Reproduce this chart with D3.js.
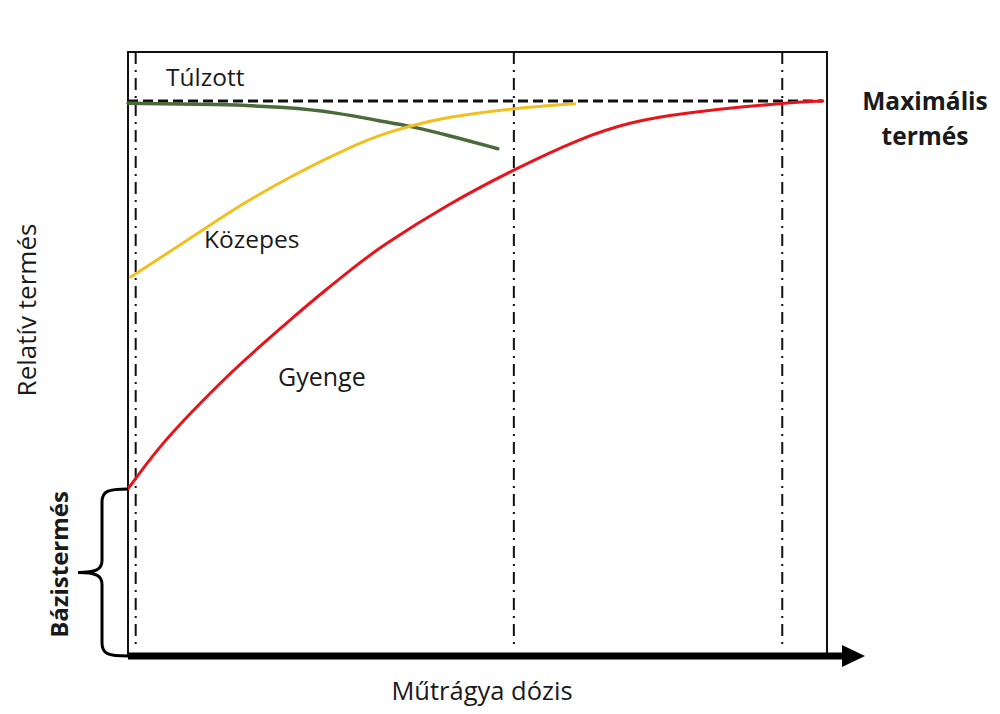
<!DOCTYPE html>
<html>
<head>
<meta charset="utf-8">
<script src="https://cdn.jsdelivr.net/npm/d3@7"></script>
<style>
  body { margin: 0; background: #fff; }
  svg text { font-family: "Open Sans", Lato, sans-serif; fill: #1a1a1a; }
</style>
</head>
<body>
<div id="vis"></div>
<script>
// Adatok: trágyadózis (0-100) és relatív termés (0-100)
const DOZIS_GYENGE = [0, 4.3, 9.2, 13.9, 18.6, 23.5, 28.2, 32.9, 36.1, 45.6, 55.1, 64.7, 71.8, 79.0, 93.3, 99.4];
const TERMES_GYENGE = [30.1, 37.5, 44.1, 50.1, 55.5, 60.9, 65.9, 70.6, 73.7, 81.3, 87.6, 93.3, 96.2, 97.8, 99.6, 100];

const DOZIS_KOZEPES = [0.4, 4.3, 9.2, 13.9, 18.6, 23.5, 28.2, 32.9, 36.1, 40.3, 45.6, 55.1, 63.9];
const TERMES_KOZEPES = [68.3, 71.5, 75.5, 79.5, 83.1, 86.5, 89.5, 92.3, 93.9, 95.5, 97.1, 98.7, 99.5];

const DOZIS_TULZOTT = [0, 13.2, 22.7, 29.9, 36.1, 40.3, 45.6, 52.9];
const TERMES_TULZOTT = [99.6, 99.4, 98.9, 97.9, 96.4, 95.5, 93.9, 91.4];

// optimális dózisok (szaggatott-pontozott függőleges vonalak)
const OPTIMUM_DOZISOK = [1.1, 55.2, 93.6];
const MAX_TERMES = 100;
const MAX_DOZIS = 100;

const WIDTH = 1000;
const HEIGHT = 714;

const SVG = d3.select("#vis").append("svg")
    .attr("width", WIDTH)
    .attr("height", HEIGHT);

const escalaX = d3.scaleLinear().domain([0, MAX_DOZIS]).range([128, 827]);
const escalaY = d3.scaleLinear().domain([0, MAX_TERMES]).range([656, 101]);

const TOP = 52;

// keret (bal, felső, jobb)
SVG.append("path")
    .attr("d", `M${escalaX(0)},${escalaY(0)} V${TOP} H${escalaX(MAX_DOZIS)} V${escalaY(0)}`)
    .attr("fill", "none")
    .attr("stroke", "#111")
    .attr("stroke-width", 2);

// függőleges vonalak
SVG.selectAll("line.optimum")
    .data(OPTIMUM_DOZISOK)
    .join("line")
    .attr("class", "optimum")
    .attr("x1", d => escalaX(d))
    .attr("x2", d => escalaX(d))
    .attr("y1", TOP)
    .attr("y2", escalaY(0) - 11)
    .attr("stroke", "#111")
    .attr("stroke-width", 2)
    .attr("stroke-dasharray", "12,6,2,6");

// maximális termés vonal
SVG.append("line")
    .attr("x1", escalaX(0))
    .attr("x2", escalaX(MAX_DOZIS) - 4)
    .attr("y1", escalaY(MAX_TERMES))
    .attr("y2", escalaY(MAX_TERMES))
    .attr("stroke", "#111")
    .attr("stroke-width", 3)
    .attr("stroke-dasharray", "10,5");

const sorozatok = [
    { nev: "Túlzott", dozis: DOZIS_TULZOTT, termes: TERMES_TULZOTT, szin: "#4b6a3b", vastag: 3.5 },
    { nev: "Közepes", dozis: DOZIS_KOZEPES, termes: TERMES_KOZEPES, szin: "#f0c020", vastag: 3 },
    { nev: "Gyenge", dozis: DOZIS_GYENGE, termes: TERMES_GYENGE, szin: "#e8141c", vastag: 3 },
];

// simított görbék
const vonal = d3.line()
    .x(d => escalaX(d[0]))
    .y(d => escalaY(d[1]))
    .curve(d3.curveBasis);

SVG.selectAll("path.gorbe")
    .data(sorozatok)
    .join("path")
    .attr("class", "gorbe")
    .attr("d", d => vonal(d3.zip(d.dozis, d.termes)))
    .attr("fill", "none")
    .attr("stroke", d => d.szin)
    .attr("stroke-width", d => d.vastag)
    .attr("stroke-linecap", "round");

// x tengely: vastag nyíl
const tengelyY = escalaY(0);
SVG.append("line")
    .attr("x1", escalaX(0))
    .attr("x2", 846)
    .attr("y1", tengelyY)
    .attr("y2", tengelyY)
    .attr("stroke", "#000")
    .attr("stroke-width", 7);
SVG.append("path")
    .attr("d", `M842,${tengelyY - 11} L865,${tengelyY} L842,${tengelyY + 11} Z`)
    .attr("fill", "#000");

// kapcsos zárójel a bázistermésnél
const bazisY = escalaY(TERMES_GYENGE[0]);
const kx = escalaX(0);
const midY = (bazisY + tengelyY) / 2;
SVG.append("path")
    .attr("d", `M${kx},${bazisY} C${kx - 20},${bazisY} ${kx - 26},${bazisY + 2} ${kx - 26},${bazisY + 13}
        L${kx - 26},${midY - 12} C${kx - 26},${midY - 3} ${kx - 32},${midY} ${kx - 50},${midY}
        C${kx - 32},${midY} ${kx - 26},${midY + 3} ${kx - 26},${midY + 12}
        L${kx - 26},${tengelyY - 13} C${kx - 26},${tengelyY - 2} ${kx - 20},${tengelyY} ${kx},${tengelyY}`)
    .attr("fill", "none")
    .attr("stroke", "#000")
    .attr("stroke-width", 3);

// feliratok
SVG.append("text").attr("x", 166).attr("y", 86).attr("font-size", 24.5).text("Túlzott");
SVG.append("text").attr("x", 204).attr("y", 248).attr("font-size", 24.5).text("Közepes");
SVG.append("text").attr("x", 278).attr("y", 386).attr("font-size", 25).text("Gyenge");

SVG.append("text")
    .attr("x", 925).attr("y", 110)
    .attr("text-anchor", "middle")
    .attr("font-size", 24.5).attr("font-weight", "bold")
    .text("Maximális");
SVG.append("text")
    .attr("x", 925).attr("y", 145)
    .attr("text-anchor", "middle")
    .attr("font-size", 24.5).attr("font-weight", "bold")
    .text("termés");

SVG.append("text")
    .attr("transform", "translate(36,310) rotate(-90)")
    .attr("text-anchor", "middle")
    .attr("font-size", 26)
    .text("Relatív termés");

SVG.append("text")
    .attr("transform", `translate(68,${midY - 8}) rotate(-90)`)
    .attr("text-anchor", "middle")
    .attr("font-size", 24).attr("font-weight", "bold")
    .text("Bázistermés");

SVG.append("text")
    .attr("x", 482).attr("y", 700)
    .attr("text-anchor", "middle")
    .attr("font-size", 25.5)
    .text("Műtrágya dózis");
</script>
</body>
</html>
